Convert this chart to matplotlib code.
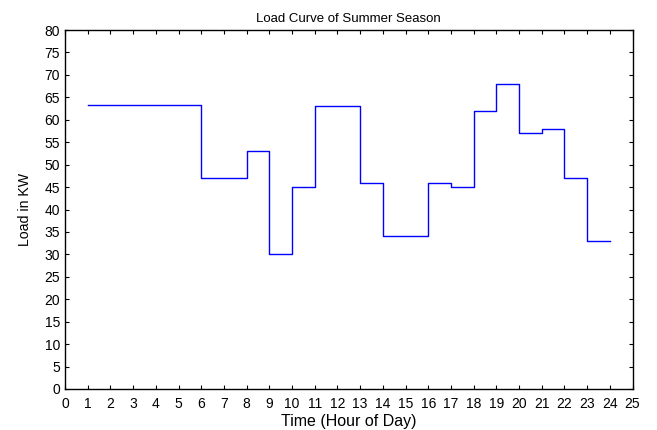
import matplotlib
matplotlib.use("Agg")
import matplotlib.pyplot as plt

hours = list(range(1, 25))
load_kw = [63.3, 63.3, 63.3, 63.3, 63.3, 47, 47, 53, 30, 45, 63, 63,
           46, 34, 34, 46, 45, 62, 68, 57, 58, 47, 33, 33]
xticks = list(range(0, 26))
yticks = list(range(0, 81, 5))

plt.rcParams['font.family'] = ['Liberation Sans', 'DejaVu Sans']

fig = plt.figure(figsize=(6.57, 4.30), dpi=100)
ax = fig.add_axes([65/657, 1 - 389/430, (632.5-65)/657, (389-30)/430])
ax.plot(hours, load_kw, drawstyle='steps-post', color='#0000ff', lw=1.0)
ax.set_xlim(0, 25)
ax.set_ylim(0, 80)
ax.set_xticks(xticks)
ax.set_yticks(yticks)
ax.tick_params(direction='in', top=True, right=True, labelsize=10, length=2.8, width=0.8)
ax.tick_params(axis='x', pad=6)
ax.tick_params(axis='y', pad=3.5)
for s in ax.spines.values():
    s.set_linewidth(1.0)
ax.set_title('Load Curve of Summer Season', fontsize=9.5, pad=6)
ax.set_xlabel('Time (Hour of Day)', fontsize=11.5, labelpad=2)
ax.set_ylabel('Load in KW', fontsize=10.2, labelpad=9)
fig.savefig('out.png', dpi=100)
